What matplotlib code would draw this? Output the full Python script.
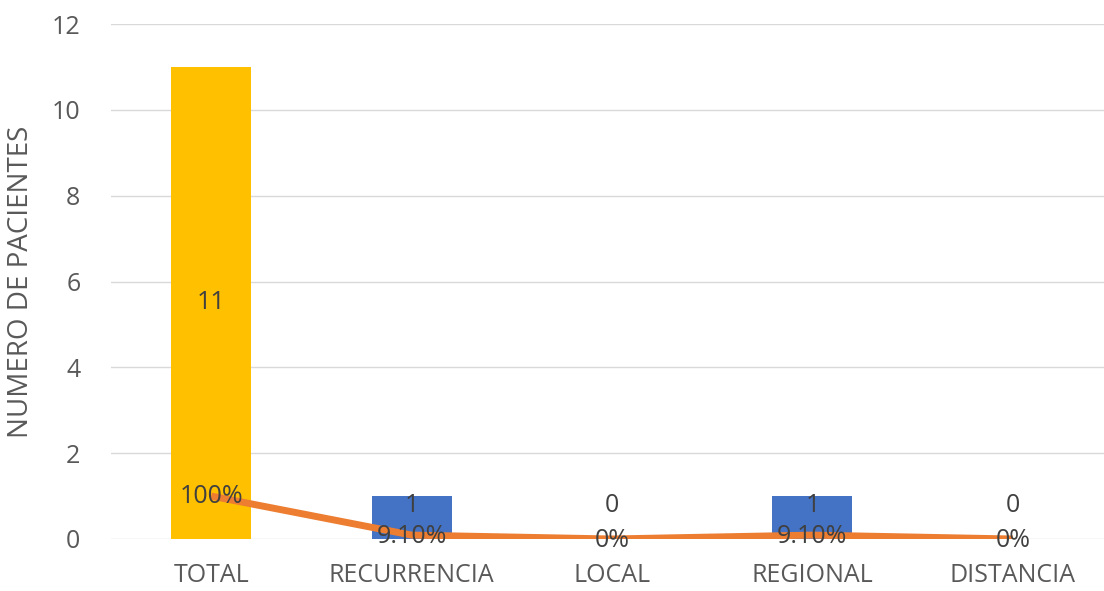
import matplotlib
matplotlib.use("Agg")
import matplotlib.pyplot as plt

categories = ["TOTAL", "RECURRENCIA", "LOCAL", "REGIONAL", "DISTANCIA"]
pacientes = [11, 1, 0, 1, 0]
proporcion = [1.0, 0.091, 0.0, 0.091, 0.0]
pct_labels = ["100%", "9.10%", "0%", "9.10%", "0%"]
yticks = [0, 2, 4, 6, 8, 10, 12]

plt.rcParams["font.family"] = ["Open Sans", "DejaVu Sans"]

fig = plt.figure(figsize=(11.04, 5.91), dpi=100)
ax = fig.add_axes([111 / 1104, 52 / 591, 1002 / 1104, 515 / 591])

x = list(range(len(categories)))
colors = ["#FFC000"] + ["#4472C4"] * (len(categories) - 1)
ax.bar(x, pacientes, width=0.4, color=colors, zorder=2)
ax.plot(x, proporcion, color="#ED7D31", linewidth=5, solid_capstyle="butt", zorder=3)

label_color = "#404040"
for xi, v in zip(x, pacientes):
    yv = v / 2 if v > 5 else 0.77
    ax.text(xi, yv, str(v), ha="center", va="center", fontsize=18, color=label_color, zorder=4)
for xi, v, s in zip(x, proporcion, pct_labels):
    yv = v - 0.02 if v > 0.5 else v - 0.04
    ax.text(xi, yv, s, ha="center", va="center", fontsize=18, color=label_color, zorder=4)

ax.set_xlim(-0.5, len(categories) - 0.5)
ax.set_ylim(0, 12)
ax.set_yticks(yticks)
ax.set_xticks(x)
ax.set_xticklabels(categories)
ax.tick_params(axis="both", length=0, labelsize=18, labelcolor="#595959")
ax.tick_params(axis="x", pad=17)
ax.tick_params(axis="y", pad=22)
ax.grid(axis="y", color="#D9D9D9", linewidth=1, zorder=0)
ax.set_axisbelow(True)
for s in ax.spines.values():
    s.set_visible(False)
ax.set_ylabel("NUMERO DE PACIENTES", fontsize=20, color="#595959", labelpad=12)

fig.savefig("out.png", dpi=100, facecolor="white")
